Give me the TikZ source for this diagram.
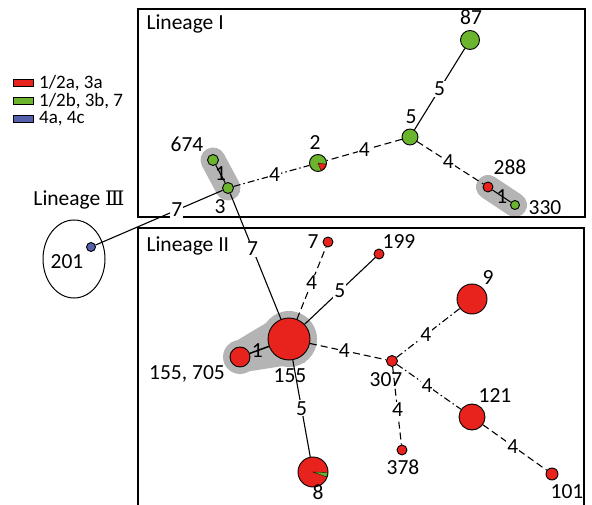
\documentclass[tikz,border=0pt]{standalone}
\usepackage{fontspec}
\setmainfont{Carlito}
\newfontfamily\numeralfont{DejaVu Serif}
\usetikzlibrary{shapes.geometric}
\pgfdeclarelayer{background}
\pgfsetlayers{background,main}
\definecolor{hapred}{RGB}{232,34,28}
\definecolor{hapgreen}{RGB}{106,180,46}
\definecolor{hapblue}{RGB}{84,96,172}
\definecolor{hull}{RGB}{180,180,180}
\tikzset{
  hap/.style={circle, draw=black, line width=0.9pt, inner sep=0pt, minimum size=#1},
  link/.style={line width=1.1pt},
  dsh/.style={link, dash pattern=on 7pt off 4pt},
  dshdot/.style={link, dash pattern=on 7pt off 3pt on 1.5pt off 3pt},
  elbl/.style={fill=white, inner sep=1pt},
  plbl/.style={inner sep=0pt},
  frame/.style={line width=1.3pt},
  keybox/.style={rectangle, draw=black, line width=0.7pt, minimum width=20pt, minimum height=7pt, inner sep=0pt},
  keytext/.style={anchor=west, inner sep=0pt, font=\fontsize{19}{21}\selectfont},
  wedge/.style={draw=black, line width=0.3pt}
}
\begin{document}
\begin{tikzpicture}[x=1pt, y=-1pt, font=\fontsize{21.5}{24}\selectfont]
\useasboundingbox (0,0) rectangle (592,505);

% lineage frames
\draw[frame] (138,9) rectangle (585,217);
\draw[frame] (138,507) -- (138,228) -- (584,228) -- (584,507);
\node[anchor=west] (t1) at (143,24) {Lineage I};
\node[anchor=west] (t2) at (143,246) {Lineage II};
\node (t3) at (79,200) {Lineage {\numeralfont\fontsize{20}{22}\selectfont Ⅲ}};
\node[draw, ellipse, line width=1pt, minimum width=62pt, minimum height=78pt] (ring) at (74,259) {};

% legend
\node[keybox, fill=hapred] (kr) at (23,83) {};
\node[keybox, fill=hapgreen] (kg) at (23,101) {};
\node[keybox, fill=hapblue] (kb) at (23,119) {};
\node[keytext] (tr) at (39,83) {1/2a, 3a};
\node[keytext] (tg) at (39,101) {1/2b, 3b, 7};
\node[keytext] (tb) at (39,119) {4a, 4c};

% haplotypes, lineage I
\node[hap=19pt, fill=hapgreen] (h87) at (470,40) {};
\node[hap=16pt, fill=hapgreen] (h5) at (410,137) {};
\node[hap=17pt, fill=hapgreen] (h2) at (318,163) {};
\node[hap=11pt, fill=hapgreen] (h674) at (213,160) {};
\node[hap=11pt, fill=hapgreen] (h3) at (228,188) {};
\node[hap=10pt, fill=hapred] (h288) at (488,187) {};
\node[hap=9pt, fill=hapgreen] (h330) at (515,205) {};
% lineage III
\node[hap=9pt, fill=hapblue] (h201) at (91,247) {};
% lineage II
\node[hap=42pt, fill=hapred] (h155) at (289,339) {};
\node[hap=20pt, fill=hapred] (h705) at (240,357) {};
\node[hap=10pt, fill=hapred] (h7) at (328,242) {};
\node[hap=10pt, fill=hapred] (h199) at (379,254) {};
\node[hap=11pt, fill=hapred] (h307) at (392,361) {};
\node[hap=30pt, fill=hapred] (h9) at (472,299) {};
\node[hap=26pt, fill=hapred] (h121) at (472,417) {};
\node[hap=12pt, fill=hapred] (h101) at (552,474) {};
\node[hap=10pt, fill=hapred] (h378) at (402,450) {};
\node[hap=30pt, fill=hapred] (h8) at (313,472) {};

% mixed haplotypes
\fill[hapred, wedge] (h2.center) -- ++(-8:8.1pt) arc[start angle=-8, end angle=-68, radius=8.1pt] -- cycle;
\fill[hapgreen, wedge] (h8.center) -- ++(-2:14.5pt) arc[start angle=-2, end angle=-20, radius=14.5pt] -- cycle;

% shaded clonal groups
\begin{pgfonlayer}{background}
  \draw[hull, line width=25pt, line cap=round] (h674.center) -- (h3.center);
  \draw[hull, line width=24pt, line cap=round] (h288.center) -- (h330.center);
  \fill[hull] (h155.center) circle[radius=28pt];
  \fill[hull] (h705.center) circle[radius=17pt];
  \fill[hull] (285.6,311.3) -- (237.4,340.2) -- (249.2,371.3) -- (305.1,362.6) -- cycle;
\end{pgfonlayer}

% connectors, lineage I
\draw[link] (h87) -- node[elbl, pos=0.5] (e1) {5} (h5);
\draw[dsh] (h5) -- node[elbl, pos=0.5] (e2) {4} (h2);
\draw[link] (h674) -- node[plbl, pos=0.5] (e3) {1} (h3);
\draw[dshdot] (h3) -- node[elbl, pos=0.54] (e4) {4} (h2);
\draw[dsh] (h5) -- node[elbl, pos=0.47] (e5) {4} (h288);
\draw[link] (h288) -- node[plbl, pos=0.5] (e6) {1} (h330);
% between lineages
\draw[link] (h3) -- node[elbl, pos=0.36] (e7) {7} (h201);
\draw[link] (h3) -- node[elbl, pos=0.44] (e8) {7} (h155);
% lineage II
\draw[link, line width=1.5pt] (h705) -- node[plbl, pos=0.4] (e9) {1} (h155);
\draw[dsh] (h155) -- node[elbl, pos=0.5] (e10) {4} (h7);
\draw[link] (h155) -- node[elbl, pos=0.5] (e11) {5} (h199);
\draw[dsh] (h155) -- node[elbl, pos=0.45] (e12) {4} (h307);
\draw[dshdot] (h307) -- node[elbl, pos=0.46] (e13) {4} (h9);
\draw[dshdot] (h307) -- node[elbl, pos=0.47] (e14) {4} (h121);
\draw[dsh] (h121) -- node[elbl, pos=0.47] (e15) {4} (h101);
\draw[dsh] (h307) -- node[elbl, pos=0.55] (e16) {4} (h378);
\draw[link] (h155) -- node[elbl, pos=0.5] (e17) {5} (h8);

% haplotype labels
\node (n87) at (471,17) {87};
\node (n5) at (411,117) {5};
\node (n2) at (315,143) {2};
\node (n674) at (187,144) {674};
\node (n3) at (220,207) {3};
\node (n288) at (510,167) {288};
\node (n330) at (545,208) {330};
\node (n201) at (67,262) {201};
\node (n7) at (313,242) {7};
\node (n199) at (399,242) {199};
\node (n705) at (187,374) {155, 705};
\node (n155) at (290,376) {155};
\node (n9) at (488,278) {9};
\node (n307) at (386,380) {307};
\node (n121) at (495,396) {121};
\node (n101) at (567,492) {101};
\node (n378) at (403,467) {378};
\node[inner sep=0pt] (n8) at (318,492) {8};
\end{tikzpicture}
\end{document}
